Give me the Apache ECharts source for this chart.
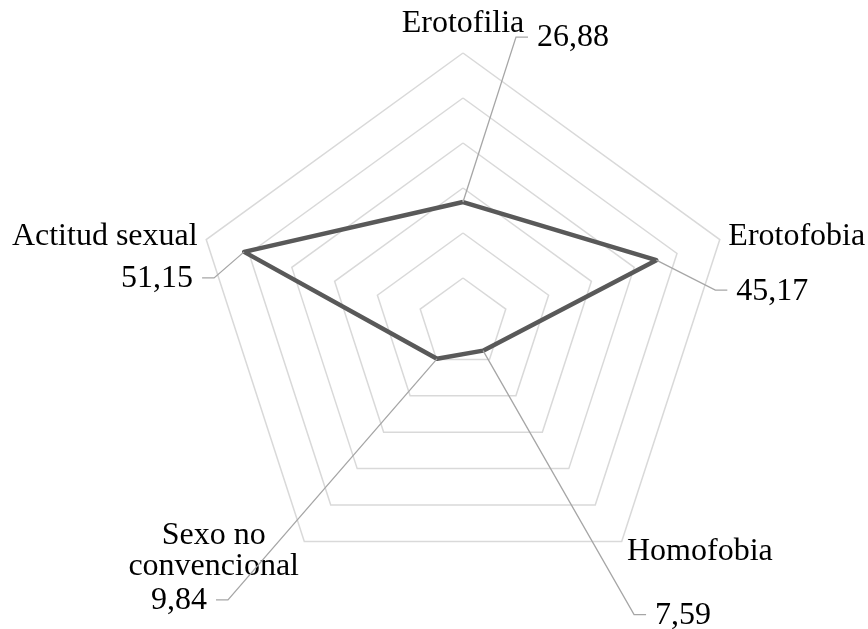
<!DOCTYPE html>
<html>
<head>
<meta charset="utf-8">
<script src="https://cdn.jsdelivr.net/npm/echarts@6/dist/echarts.min.js"></script>
<style>html,body{margin:0;padding:0;background:#fff;}#c{width:868px;height:629px;}</style>
</head>
<body>
<div id="c"></div>
<script>
// Data (clockwise order from top, as in the reference)
const categories = ['Erotofilia', 'Erotofobia', 'Homofobia', 'Sexo no convencional', 'Actitud sexual'];
const values = [26.88, 45.17, 7.59, 9.84, 51.15];
const axisMax = 60;
const ringCount = 6;

// Label layout (offsets of leader-line elbow from the data point, stub direction)
const labelElbow = [[53, -165], [59, 30], [151, 264], [-209, 241], [-30, 26]];
const labelSide = [1, 1, 1, -1, -1];

// ECharts places indicators counter-clockwise; reorder
const order = [0, 4, 3, 2, 1];
const FONT = 'Liberation Serif';

const chart = echarts.init(document.getElementById('c'), null, {renderer: 'canvas'});
const base = {fontFamily: FONT, fontSize: 32, color: '#000'};
const option = {
  backgroundColor: '#ffffff',
  animation: false,
  radar: {
    center: [463, 323],
    radius: 270,
    startAngle: 90,
    splitNumber: ringCount,
    shape: 'polygon',
    indicator: order.map(i => ({name: categories[i], min: 0, max: axisMax})),
    nameGap: 9,
    axisName: {
      color: '#000',
      fontFamily: FONT,
      fontSize: 32,
      formatter: function (name) {
        if (name === 'Sexo no convencional') return '{c1|Sexo no}\n{c|convencional}';
        if (name === 'Erotofilia') return '{t|' + name + '}';
        if (name === 'Homofobia') return '{h|' + name + '}';
        return name;
      },
      rich: {
        c1: Object.assign({align: 'center', lineHeight: 35, padding: [8, 0, 0, 0]}, base),
        c: Object.assign({align: 'center', lineHeight: 35}, base),
        t: Object.assign({padding: [0, 0, 4, 0]}, base),
        h: Object.assign({padding: [6, 0, 0, 0]}, base)
      }
    },
    axisLine: {show: false},
    axisTick: {show: false},
    axisLabel: {show: false},
    splitArea: {show: false},
    splitLine: {lineStyle: {color: '#d9d9d9', width: 1.5}}
  },
  series: [{
    type: 'radar',
    symbol: 'none',
    lineStyle: {color: '#595959', width: 4.5},
    data: [{value: order.map(i => values[i])}]
  }]
};
chart.setOption(option);

// Data labels with leader lines, anchored at the radar's own data points
let pts;
try {
  const cs = chart.getModel().getComponent('radar', 0).coordinateSystem;
  pts = categories.map((c, i) => cs.dataToPoint(values[i], order.indexOf(i)));
} catch (e) {
  pts = categories.map((c, i) => {
    const a = Math.PI / 2 - i * 2 * Math.PI / categories.length;
    const r = values[i] / axisMax * 270;
    return [463 + r * Math.cos(a), 323 - r * Math.sin(a)];
  });
}
const graphics = [];
pts.forEach((p, i) => {
  const e = [p[0] + labelElbow[i][0], p[1] + labelElbow[i][1]];
  const s = [e[0] + 12 * labelSide[i], e[1]];
  graphics.push({
    type: 'polyline', z: 50,
    shape: {points: [p, e, s]},
    style: {stroke: '#a6a6a6', lineWidth: 1.3, fill: null}
  });
  graphics.push({
    type: 'text', z: 50,
    x: s[0] + 9 * labelSide[i], y: e[1] + 1,
    style: {
      text: values[i].toFixed(2).replace('.', ','),
      fill: '#000',
      font: '32px "' + FONT + '"',
      align: labelSide[i] > 0 ? 'left' : 'right',
      verticalAlign: 'middle'
    }
  });
});
chart.setOption({graphic: graphics});
</script>
</body>
</html>
